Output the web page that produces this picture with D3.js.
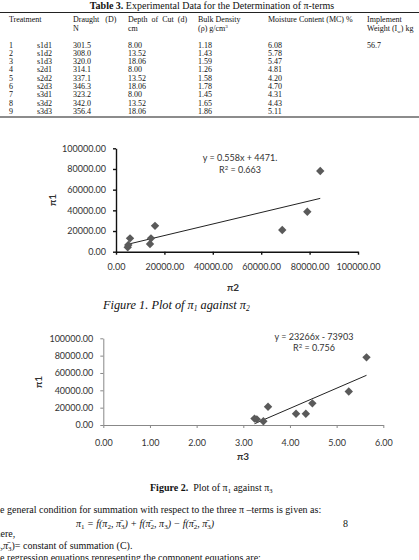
<!DOCTYPE html>
<html><head><meta charset="utf-8">
<script src="https://cdn.jsdelivr.net/npm/d3@7/dist/d3.min.js"></script>
<style>
html,body{margin:0;padding:0;background:#fff;}
svg{display:block;}
.serif{font-family:"Liberation Serif","Times New Roman",serif;}
.sans{font-family:Lato,"Open Sans",sans-serif;}
</style></head>
<body>
<svg id="c" width="419" height="560"></svg>
<script>
// ---- Table data ----
const treatNo = ["1","2","3","4","5","6","7","8","9"];
const treatment = ["s1d1","s1d2","s1d3","s2d1","s2d2","s2d3","s3d1","s3d2","s3d3"];
const draught = ["301.5","308.0","320.0","314.1","337.1","346.3","323.2","342.0","356.4"];
const depth = ["8.00","13.52","18.06","8.00","13.52","18.06","8.00","13.52","18.06"];
const density = ["1.18","1.43","1.59","1.26","1.58","1.78","1.45","1.65","1.86"];
const moisture = ["6.08","5.78","5.47","4.81","4.20","4.70","4.31","4.43","5.11"];
const implWeight = ["56.7","","","","","","","",""];

// ---- Chart data ----
const pi1 = [4300, 6500, 12900, 7400, 12900, 25000, 21000, 38600, 78000];
const pi2 = [4840, 5080, 5790, 14050, 14460, 16120, 68700, 79050, 84400];
const pi3 = [3.43, 3.29, 4.13, 3.24, 4.34, 4.48, 3.53, 5.26, 5.64];
const yTicks = [0, 20000, 40000, 60000, 80000, 100000];
const x1Ticks = [0, 20000, 40000, 60000, 80000, 100000];
const x2Ticks = [0, 1, 2, 3, 4, 5, 6];
const fit1 = [0.558, 4471];
const fit2 = [23266, -73903];

const svg = d3.select("#c");
svg.append("rect").attr("width",419).attr("height",560).attr("fill","#fff");

// ---- Table ----
const tf = 8;
const tg = svg.append("g").attr("class","serif").attr("fill","#111");
const t = tg.append("text").attr("x",212).attr("y",9).attr("text-anchor","middle").attr("font-size",10);
t.append("tspan").attr("font-weight","bold").text("Table 3.");
t.append("tspan").text("  Experimental Data for the Determination of π-terms");
tg.append("line").attr("x1",0).attr("x2",419).attr("y1",12.5).attr("y2",12.5).attr("stroke","#222").attr("stroke-width",1);
const colX = [9, 37, 73, 128, 198, 268, 367];
const hdr1 = ["Treatment", null, "Draught   (D)", "Depth  of  Cut  (d)", "Bulk Density", "Moisture Content (MC) %", "Implement"];
hdr1.forEach((h,i)=>{ if(h) tg.append("text").attr("x",colX[i]).attr("y",22).attr("font-size",tf).attr("xml:space","preserve").text(h); });
tg.append("text").attr("x",colX[2]).attr("y",31).attr("font-size",tf).text("N");
tg.append("text").attr("x",colX[3]).attr("y",31).attr("font-size",tf).text("cm");
const bd = tg.append("text").attr("x",colX[4]).attr("y",31).attr("font-size",tf);
bd.append("tspan").text("(ρ) g/cm");
bd.append("tspan").attr("font-size",5).attr("dy",-3).text("3");
const iw = tg.append("text").attr("x",colX[6]).attr("y",31).attr("font-size",tf);
iw.append("tspan").text("Weight (I");
iw.append("tspan").attr("font-size",5).attr("dy",1.5).text("w");
iw.append("tspan").attr("dy",-1.5).text(") kg");
const cols = [treatNo, treatment, draught, depth, density, moisture, implWeight];
const rowY = d3.scaleLinear().domain([0,8]).range([47.5, 114]);
cols.forEach((col,ci)=>{
  col.forEach((v,ri)=>{
    tg.append("text").attr("x",colX[ci]).attr("y",rowY(ri)).attr("font-size",tf).text(v);
  });
});
tg.append("line").attr("x1",0).attr("x2",419).attr("y1",117).attr("y2",117).attr("stroke","#666").attr("stroke-width",1.5);

// ---- helpers ----
const diamond = "M0,-4.2L4.2,0L0,4.2L-4.2,0Z";
const fmt = d3.format(".2f");
function chart(opt){
  const g = svg.append("g").attr("class","sans");
  const x = d3.scaleLinear().domain(opt.xd).range(opt.xr);
  const y = d3.scaleLinear().domain([0,100000]).range(opt.yr);
  const xa = g.append("g").attr("transform",`translate(0,${opt.yr[0]})`)
    .call(d3.axisBottom(x).tickValues(opt.xt).tickFormat(fmt).tickSize(3).tickSizeOuter(0).tickPadding(opt.xpad));
  const ya = g.append("g").attr("transform",`translate(${opt.xr[0]},0)`)
    .call(d3.axisLeft(y).tickValues(yTicks).tickFormat(fmt).tickSize(3).tickSizeOuter(0).tickPadding(7));
  [xa,ya].forEach(a=>{
    a.selectAll("path,line").attr("stroke",opt.axisColor).attr("stroke-width",opt.axisW);
    a.selectAll("text").attr("font-family","Lato").attr("font-size",9).attr("fill","#333");
  });
  // trend line
  const xs = opt.xv;
  const mn = d3.min(xs), mx = d3.max(xs);
  g.append("line").attr("x1",x(mn)).attr("y1",y(opt.fit[0]*mn+opt.fit[1]))
    .attr("x2",x(mx)).attr("y2",y(opt.fit[0]*mx+opt.fit[1]))
    .attr("stroke","#222").attr("stroke-width",1);
  g.selectAll("path.pt").data(xs.map((d,i)=>[d,pi1[i]])).join("path").attr("class","pt")
    .attr("d",diamond).attr("transform",d=>`translate(${x(d[0])},${y(d[1])})`).attr("fill","#5a5a5a");
  // equation
  const e = g.append("g").attr("font-size",9).attr("fill","#333").attr("text-anchor","middle");
  e.append("text").attr("x",opt.eq[0]).attr("y",opt.eq[1]).text(opt.eqText);
  const r = e.append("text").attr("x",opt.eq[0]).attr("y",opt.eq[1]+11.5);
  r.append("tspan").text("R");
  r.append("tspan").attr("font-size",6).attr("dy",-3).text("2");
  r.append("tspan").attr("dy",3).text(" = "+opt.r2);
  // axis titles
  g.append("text").attr("transform",`translate(${opt.yl[0]},${opt.yl[1]}) rotate(-90)`).attr("text-anchor","middle")
    .attr("font-size",10).attr("font-weight","bold").attr("fill","#333").attr("dy","0.35em").text("π1");
  g.append("text").attr("x",opt.xl[0]).attr("y",opt.xl[1]).attr("text-anchor","middle")
    .attr("font-size",10).attr("font-weight","bold").attr("fill","#333").attr("dy","0.35em").text(opt.xlabel);
}
chart({xd:[0,100000], xr:[116,358], yr:[251.7,148.3], xt:x1Ticks, xv:pi2, fit:fit1, xpad:9,
  axisColor:"#111", axisW:1.4, eq:[240,161], eqText:"y = 0.558x + 4471.", r2:"0.663",
  yl:[52,200], xl:[233,287], xlabel:"π2"});
chart({xd:[0,6], xr:[103.3,383.3], yr:[425,338.3], xt:x2Ticks, xv:pi3, fit:fit2, xpad:12,
  axisColor:"#888", axisW:1, eq:[314,339.5], eqText:"y = 23266x - 73903", r2:"0.756",
  yl:[38,382], xl:[243,456], xlabel:"π3"});

// ---- captions and body text ----
const bt = svg.append("g").attr("class","serif").attr("fill","#111");
const c1 = bt.append("text").attr("x",103).attr("y",309).attr("font-size",12.3).attr("font-style","italic");
c1.append("tspan").text("Figure 1. Plot of π");
c1.append("tspan").attr("font-size",7.5).attr("dy",2).text("1");
c1.append("tspan").attr("dy",-2).text(" against π");
c1.append("tspan").attr("font-size",7.5).attr("dy",2).text("2");
const c2 = bt.append("text").attr("x",150).attr("y",490.5).attr("font-size",10);
c2.append("tspan").attr("font-weight","bold").text("Figure 2.");
c2.append("tspan").attr("xml:space","preserve").text("  Plot of π");
c2.append("tspan").attr("font-size",6.5).attr("dy",2).text("1");
c2.append("tspan").attr("dy",-2).text(" against π");
c2.append("tspan").attr("font-size",6.5).attr("dy",2).text("3");

bt.append("text").attr("x",-11).attr("y",513).attr("font-size",10).text("The general condition for summation with respect to the three π –terms is given as:");
const f = bt.append("text").attr("x",76).attr("y",527).attr("font-size",10).attr("font-style","italic");
[["π",0],["1",1],[" = f(π",0],["2",1],[", π̄",0],["3",1],[") + f(π̄",0],["2",1],[", π",0],["3",1],[") − f(π̄",0],["2",1],[", π̄",0],["3",1],[")",0]]
  .forEach((s,i,arr)=>{
    const prev = i>0 ? arr[i-1][1] : 0;
    const ts = f.append("tspan").attr("xml:space","preserve").text(s[0]);
    if(s[1]){ ts.attr("font-size",7).attr("font-style","normal").attr("dy",2); }
    else if(prev){ ts.attr("dy",-2); }
  });
bt.append("text").attr("x",343).attr("y",527).attr("font-size",10).text("8");
bt.append("text").attr("x",-14).attr("y",537).attr("font-size",10).text("Where,");
const l4 = bt.append("text").attr("x",-8).attr("y",548.5).attr("font-size",10);
l4.append("tspan").attr("font-style","italic").text("π̄");
l4.append("tspan").attr("font-size",7).attr("dy",2).text("2");
l4.append("tspan").attr("dy",-2).attr("font-style","italic").text(",π̄");
l4.append("tspan").attr("font-size",7).attr("dy",2).text("3");
l4.append("tspan").attr("dy",-2).text(")= constant of summation (C).");
bt.append("text").attr("x",-11).attr("y",561).attr("font-size",10).text("The regression equations representing the component equations are:");
</script>
</body></html>
